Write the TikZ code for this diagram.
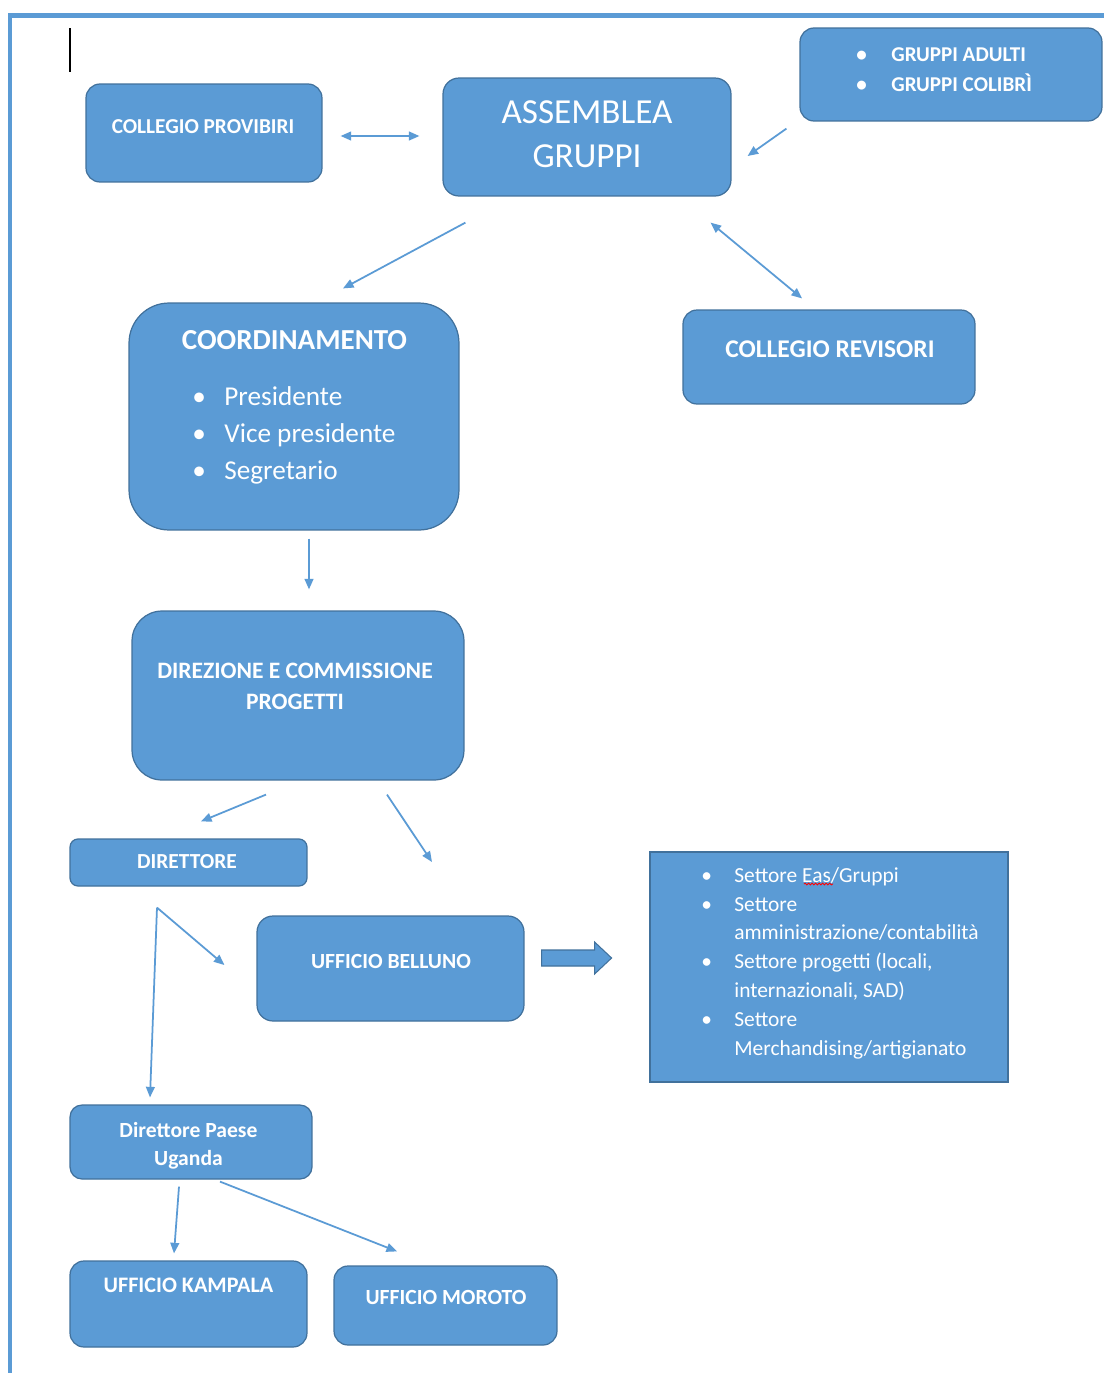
\documentclass[tikz,border=0pt]{standalone}
\usepackage{fontspec}
\setmainfont{Carlito}
\usetikzlibrary{arrows.meta,positioning,decorations.pathmorphing}

\definecolor{azzurro}{HTML}{5B9BD5}
\definecolor{bordo}{HTML}{41719C}

% pallino di elenco con rientro
\newcommand{\punto}[1]{\makebox[#1][l]{\textbullet}}

\tikzset{
        % Caselle arrotondate
        casella/.style={rounded corners=0.28cm, fill=azzurro, draw=bordo, line width=0.7pt, inner sep=0pt},
        % Casella squadrata
        casella_piatta/.style={fill=azzurro, draw=bordo, line width=0.7pt, inner sep=0pt},
        % Testi bianchi
        testo/.style={text=white, inner sep=0pt, align=center},
        testo_lista/.style={text=white, inner sep=0pt, align=left, anchor=north west},
        % Frecce
        freccia/.style={draw=azzurro, line width=1pt, -{Triangle[length=6pt,width=5pt]}},
        freccia_doppia/.style={draw=azzurro, line width=1pt, {Triangle[length=6pt,width=5pt]}-{Triangle[length=6pt,width=5pt]}},
        blocco/.style={fill=azzurro, draw=bordo, line width=0.6pt},
        cornice/.style={draw=azzurro, line width=0.1cm}
}

\begin{document}
\begin{tikzpicture}[x=0.02cm, y=-0.02cm]
    \fill[white] (0,0) rectangle (1104,1373);
    \useasboundingbox (0,0) rectangle (1104,1373);
    \draw[cornice] (10,1373) -- (10,15.5) -- (1104,15.5);
    \draw[black, line width=0.04cm] (70,28) -- (70,72);

    % Caselle
    \node[casella, minimum width=4.72cm, minimum height=1.96cm] (prov) at (204,133) {};
    \node[casella, rounded corners=0.32cm, minimum width=5.76cm, minimum height=2.36cm] (assemblea) at (587,137) {};
    \node[casella, minimum width=6.04cm, minimum height=1.86cm] (gruppi) at (951,74.5) {};
    \node[casella, rounded corners=0.8cm, minimum width=6.6cm, minimum height=4.54cm] (coord) at (294,416.5) {};
    \node[casella, minimum width=5.84cm, minimum height=1.88cm] (revisori) at (829,357) {};
    \node[casella, rounded corners=0.6cm, minimum width=6.64cm, minimum height=3.38cm] (direzione) at (298,695.5) {};
    \node[casella, rounded corners=0.16cm, minimum width=4.74cm, minimum height=0.94cm] (direttore) at (188.5,862.5) {};
    \node[casella, rounded corners=0.32cm, minimum width=5.34cm, minimum height=2.1cm] (belluno) at (390.5,968.5) {};
    \node[casella_piatta, minimum width=7.16cm, minimum height=4.6cm] (settori) at (829,967) {};
    \node[casella, rounded corners=0.24cm, minimum width=4.84cm, minimum height=1.48cm] (paese) at (191,1142) {};
    \node[casella, minimum width=4.74cm, minimum height=1.72cm] (kampala) at (188.5,1304) {};
    \node[casella, minimum width=4.46cm, minimum height=1.58cm] (moroto) at (445.5,1305.5) {};

    % Testi
    \node[testo, anchor=base, font=\fontsize{12.1}{14}\selectfont\bfseries] (prov_t) at (203,133) {COLLEGIO PROVIBIRI};
    \node[testo, anchor=north, font=\fontsize{20}{25}\selectfont] (assemblea_t) at (587,100) {ASSEMBLEA\\GRUPPI};
    \node[testo_lista, font=\fontsize{12}{17}\selectfont\bfseries] (gruppi_t) at (856,47) {\punto{0.7cm}GRUPPI ADULTI\\\punto{0.7cm}GRUPPI COLIBRÌ};
    \node[testo, anchor=base, font=\fontsize{16.5}{18}\selectfont\bfseries] (coord_t) at (294.5,349) {COORDINAMENTO};
    \node[testo_lista, font=\fontsize{15.5}{21}\selectfont] (coord_l) at (192,386) {\punto{0.64cm}Presidente\\\punto{0.64cm}Vice presidente\\\punto{0.64cm}Segretario};
    \node[testo, anchor=base, font=\fontsize{14.5}{15}\selectfont\bfseries] (revisori_t) at (830,357) {COLLEGIO REVISORI};
    \node[testo, anchor=north, font=\fontsize{13.4}{17.6}\selectfont\bfseries] (direzione_t) at (295,663) {DIREZIONE E COMMISSIONE\\PROGETTI};
    \node[testo, anchor=base, font=\fontsize{12.2}{13}\selectfont\bfseries] (direttore_t) at (187,868) {DIRETTORE};
    \node[testo, anchor=base, font=\fontsize{12.3}{14}\selectfont\bfseries] (belluno_t) at (391,968) {UFFICIO BELLUNO};
    \node[testo_lista, font=\fontsize{12.2}{16.4}\selectfont] (settori_l) at (701,867) {\punto{0.66cm}Settore Eas/Gruppi\\\punto{0.66cm}Settore\\\hspace*{0.66cm}amministrazione/contabilità\\\punto{0.66cm}Settore progetti (locali,\\\hspace*{0.66cm}internazionali, SAD)\\\punto{0.66cm}Settore\\\hspace*{0.66cm}Merchandising/artigianato};
    \node[testo, anchor=north, font=\fontsize{12.3}{15.9}\selectfont\bfseries] (paese_t) at (188.5,1122) {Direttore Paese\\Uganda};
    \node[testo, anchor=base, font=\fontsize{12.6}{14}\selectfont\bfseries] (kampala_t) at (188.5,1292) {UFFICIO KAMPALA};
    \node[testo, anchor=base, font=\fontsize{12.3}{14}\selectfont\bfseries] (moroto_t) at (446,1304) {UFFICIO MOROTO};
    \draw[red, line width=0.5pt, decorate, decoration={snake, amplitude=0.5pt, segment length=2pt}] (804,884) -- (833,884);

    % Frecce
    \coordinate (vuoto) at (432,862);
    \draw[freccia_doppia] ([shift={(18,3)}]prov.east) -- ([shift={(-23,-1)}]assemblea.west);
    \draw[freccia] ([shift={(-13,7)}]gruppi.south west) -- ([shift={(16,19)}]assemblea.east);
    \draw[freccia] ([shift={(23,26)}]assemblea.south west) -- ([shift={(49,-14)}]coord.north);
    \draw[freccia_doppia] ([shift={(-21,26)}]assemblea.south east) -- ([shift={(-27,-11)}]revisori.north);
    \draw[freccia] ([shift={(15,8)}]coord.south) -- ([shift={(11,-21)}]direzione.north);
    \draw[freccia] ([shift={(-32,14)}]direzione.south) -- ([shift={(12.5,-17)}]direttore.north);
    \draw[freccia] ([shift={(89,14)}]direzione.south) -- (vuoto);
    \draw[freccia] ([shift={(-31.5,21)}]direttore.south) -- ([shift={(-32,-3.5)}]belluno.west);
    \draw[freccia] ([shift={(-31.5,21)}]direttore.south) -- ([shift={(-41,-7)}]paese.north);
    \draw[freccia] ([shift={(-12,7)}]paese.south) -- ([shift={(-14.5,-7)}]kampala.north);
    \draw[freccia] ([shift={(29,2)}]paese.south) -- ([shift={(-48.5,-14)}]moroto.north);
    \filldraw[blocco] ([shift={(17,-18.5)}]belluno.east) -- ++(53,0) -- ++(0,-8) -- ++(17,16)
        -- ++(-17,16) -- ++(0,-8) -- ++(-53,0) -- cycle;
\end{tikzpicture}
\end{document}
